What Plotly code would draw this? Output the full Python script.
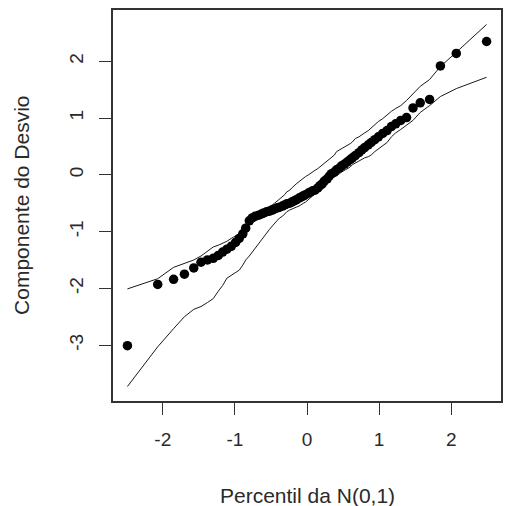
import plotly.graph_objects as go

# Theoretical N(0,1) percentiles for the 78 ordered residuals
theoretical_quantiles = [
    -2.49, -2.07, -1.85, -1.70, -1.57, -1.47, -1.38, -1.30, -1.23, -1.17,
    -1.11, -1.05, -0.99, -0.94, -0.89, -0.85, -0.80, -0.76, -0.72, -0.67,
    -0.63, -0.60, -0.56, -0.52, -0.48, -0.45, -0.41, -0.38, -0.34, -0.31,
    -0.28, -0.24, -0.21, -0.18, -0.15, -0.11, -0.08, -0.05, -0.02,
    0.02, 0.05, 0.08, 0.11, 0.15, 0.18, 0.21, 0.24, 0.28, 0.31,
    0.34, 0.38, 0.41, 0.45, 0.48, 0.52, 0.56, 0.60, 0.63, 0.67,
    0.72, 0.76, 0.80, 0.85, 0.89, 0.94, 0.99, 1.05, 1.11, 1.17,
    1.23, 1.30, 1.38, 1.47, 1.57, 1.70, 1.85, 2.07, 2.49,
]

# Ordered deviance-component residuals
deviance_residuals = [
    -3.01, -1.93, -1.84, -1.75, -1.64, -1.54, -1.50, -1.47, -1.42, -1.36,
    -1.31, -1.26, -1.19, -1.12, -1.04, -0.94, -0.81, -0.76, -0.73, -0.71,
    -0.69, -0.67, -0.65, -0.64, -0.62, -0.60, -0.58, -0.57, -0.55, -0.53,
    -0.51, -0.50, -0.48, -0.46, -0.44, -0.41, -0.39, -0.37, -0.35,
    -0.32, -0.30, -0.28, -0.27, -0.23, -0.19, -0.16, -0.11, -0.07, -0.02,
    0.02, 0.05, 0.09, 0.12, 0.16, 0.19, 0.23, 0.27, 0.30, 0.34,
    0.39, 0.44, 0.48, 0.53, 0.57, 0.62, 0.67, 0.73, 0.78, 0.85,
    0.90, 0.96, 1.01, 1.18, 1.27, 1.33, 1.92, 2.14, 2.35,
]

# Simulated envelope bounds
envelope_upper = [
    -2.01, -1.83, -1.63, -1.56, -1.50, -1.43, -1.35, -1.27, -1.24, -1.21,
    -1.17, -1.12, -1.08, -1.04, -0.99, -0.92, -0.83, -0.78, -0.73, -0.69,
    -0.65, -0.62, -0.58, -0.56, -0.53, -0.50, -0.46, -0.42, -0.39, -0.35,
    -0.30, -0.27, -0.23, -0.19, -0.16, -0.12, -0.09, -0.05, -0.03,
    0.00, 0.03, 0.05, 0.08, 0.11, 0.14, 0.18, 0.21, 0.25, 0.27,
    0.31, 0.35, 0.41, 0.44, 0.46, 0.49, 0.51, 0.55, 0.58, 0.64,
    0.67, 0.71, 0.74, 0.78, 0.83, 0.88, 0.94, 0.99, 1.06, 1.12,
    1.17, 1.22, 1.31, 1.42, 1.56, 1.68, 1.91, 2.16, 2.65,
]

envelope_lower = [
    -3.73, -3.03, -2.71, -2.50, -2.37, -2.32, -2.25, -2.18, -2.05, -1.95,
    -1.82, -1.77, -1.72, -1.68, -1.59, -1.50, -1.43, -1.36, -1.29, -1.22,
    -1.15, -1.08, -1.01, -0.96, -0.90, -0.85, -0.80, -0.76, -0.73, -0.69,
    -0.65, -0.62, -0.60, -0.58, -0.57, -0.55, -0.52, -0.50, -0.48,
    -0.44, -0.41, -0.37, -0.32, -0.28, -0.25, -0.21, -0.18, -0.14, -0.11,
    -0.07, -0.04, -0.02, 0.02, 0.05, 0.08, 0.11, 0.14, 0.18, 0.21,
    0.24, 0.27, 0.30, 0.32, 0.35, 0.41, 0.46, 0.51, 0.57, 0.67,
    0.74, 0.80, 0.88, 0.96, 1.10, 1.22, 1.38, 1.52, 1.72,
]

x_ticks = [-2, -1, 0, 1, 2]
y_ticks = [-3, -2, -1, 0, 1, 2]

x_title = "Percentil da N(0,1)"
y_title = "Componente do Desvio"

FONT = "Liberation Sans, Arial, sans-serif"
INK = "#2a2a2a"

fig = go.Figure()

for band in (envelope_lower, envelope_upper):
    fig.add_trace(go.Scatter(
        x=theoretical_quantiles, y=band, mode="lines",
        line=dict(color="#1a1a1a", width=1),
        hoverinfo="skip", showlegend=False,
    ))

fig.add_trace(go.Scatter(
    x=theoretical_quantiles, y=deviance_residuals, mode="markers",
    marker=dict(color="black", size=9.5, line=dict(width=0)),
    showlegend=False,
))

axis_common = dict(
    showgrid=False, zeroline=False,
    showline=True, mirror=True, linecolor="#333333", linewidth=1.5,
    ticks="outside", ticklen=12, tickwidth=1.3, tickcolor="#333333",
    tickfont=dict(family=FONT, size=19, color=INK),
)

fig.update_xaxes(
    range=[-2.69, 2.69], tickmode="array", tickvals=x_ticks,
    ticktext=[str(v) for v in x_ticks], ticklabelstandoff=8,
    **axis_common,
)
fig.update_yaxes(
    range=[-3.985, 2.905], tickmode="array", tickvals=y_ticks,
    ticktext=[str(v) for v in y_ticks], tickangle=-90, ticklabelstandoff=9,
    **axis_common,
)

fig.add_annotation(
    text=x_title, xref="paper", yref="paper", x=0.5, y=-0.242,
    xanchor="center", yanchor="middle", showarrow=False,
    font=dict(family=FONT, size=21, color=INK),
)
fig.add_annotation(
    text=y_title, xref="paper", yref="paper", x=-0.236, y=0.5,
    xanchor="center", yanchor="middle", textangle=-90, showarrow=False,
    font=dict(family=FONT, size=21, color=INK),
)

fig.update_layout(
    width=509, height=506,
    margin=dict(l=113, r=6, t=10, b=105),
    paper_bgcolor="white", plot_bgcolor="white",
)

fig.write_html("out.html")
